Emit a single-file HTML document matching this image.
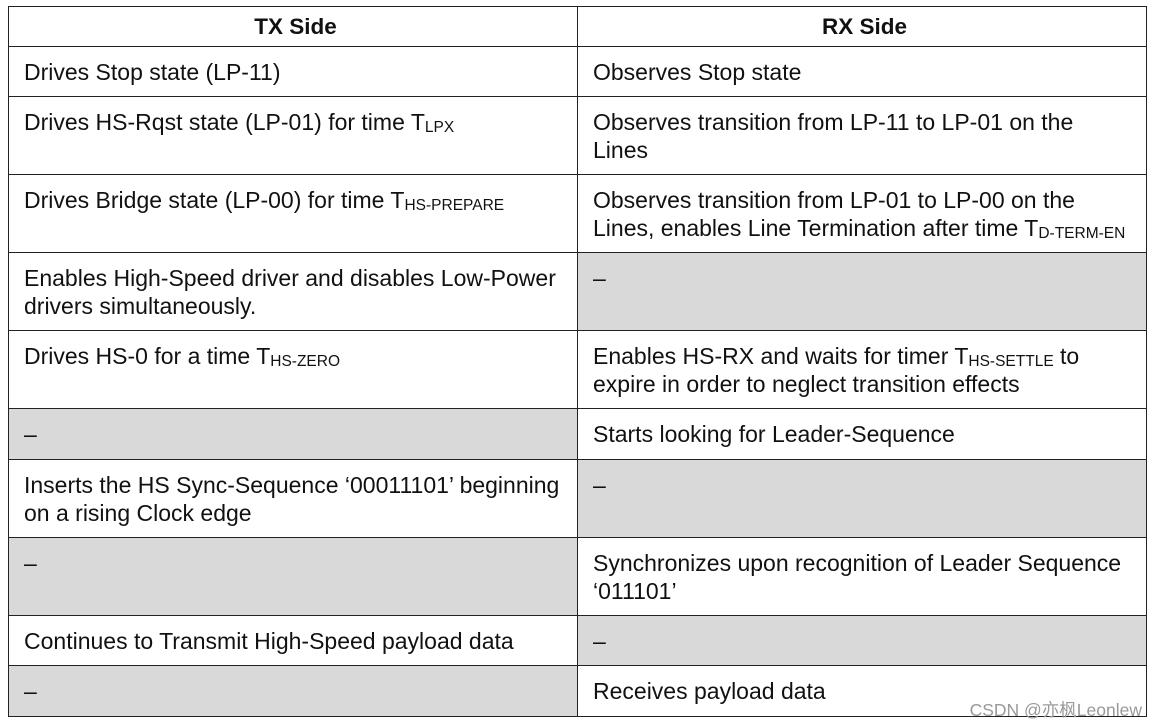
<!DOCTYPE html>
<html><head><meta charset="utf-8"><style>
body{margin:0;background:#fff;width:1156px;height:726px;position:relative;overflow:hidden;font-family:"Liberation Sans",Arial,sans-serif;}
table{position:absolute;left:8px;top:6px;border-collapse:collapse;table-layout:fixed;width:1138px;}
td,th{border:1.5px solid #222;vertical-align:top;padding:11px 10px 0 15px;font-size:23px;line-height:28px;color:#111;box-sizing:border-box;}
th{font-weight:bold;text-align:center;padding-top:6px;font-size:22.5px;}
.g{background:#d9d9d9;}
sub{font-size:15.5px;vertical-align:baseline;position:relative;top:2px;line-height:0;}
.wm{position:absolute;right:14px;top:697px;font-size:17.5px;color:#999;font-family:"Liberation Sans","Noto Sans CJK SC",sans-serif;}
</style></head><body>
<table>
<colgroup><col style="width:569px"><col style="width:569px"></colgroup>
<tr style="height:40px"><th>TX Side</th><th>RX Side</th></tr>
<tr style="height:50px"><td>Drives Stop state (LP-11)</td><td>Observes Stop state</td></tr>
<tr style="height:78px"><td>Drives HS-Rqst state (LP-01) for time T<sub>LPX</sub></td><td>Observes transition from LP-11 to LP-01 on the<br>Lines</td></tr>
<tr style="height:78px"><td>Drives Bridge state (LP-00) for time T<sub>HS-PREPARE</sub></td><td>Observes transition from LP-01 to LP-00 on the<br>Lines, enables Line Termination after time T<sub>D-TERM-EN</sub></td></tr>
<tr style="height:78px"><td>Enables High-Speed driver and disables Low-Power drivers simultaneously.</td><td class="g">–</td></tr>
<tr style="height:78px"><td>Drives HS-0 for a time T<sub>HS-ZERO</sub></td><td>Enables HS-RX and waits for timer T<sub>HS-SETTLE</sub> to<br>expire in order to neglect transition effects</td></tr>
<tr style="height:51px"><td class="g">–</td><td>Starts looking for Leader-Sequence</td></tr>
<tr style="height:78px"><td>Inserts the HS Sync-Sequence ‘00011101’ beginning<br>on a rising Clock edge</td><td class="g">–</td></tr>
<tr style="height:78px"><td class="g">–</td><td>Synchronizes upon recognition of Leader Sequence<br>‘011101’</td></tr>
<tr style="height:50px"><td>Continues to Transmit High-Speed payload data</td><td class="g">–</td></tr>
<tr style="height:51px"><td class="g">–</td><td>Receives payload data</td></tr>
</table>
<div class="wm">CSDN @亦枫Leonlew</div>
</body></html>
